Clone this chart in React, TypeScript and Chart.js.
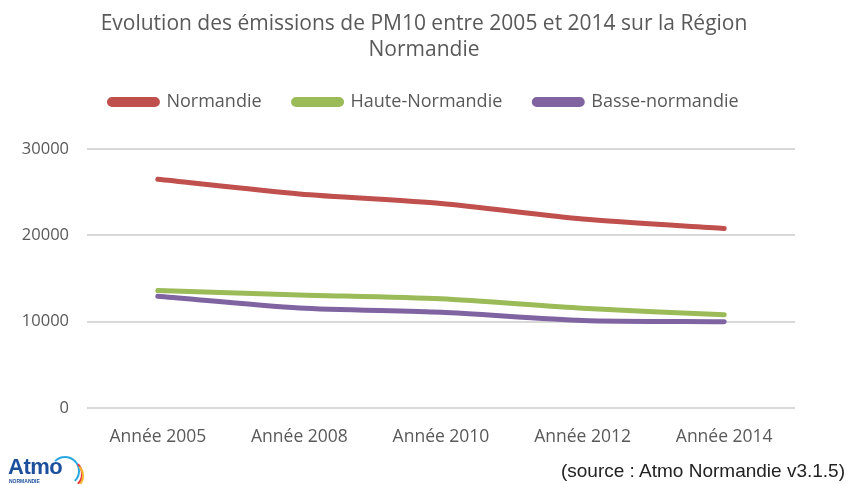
import React, { useEffect, useRef } from "react";
import { Chart, registerables, layouts } from "chart.js";

Chart.register(...registerables);

const categories = ["Année 2005", "Année 2008", "Année 2010", "Année 2012", "Année 2014"];
const normandie = [26500, 24800, 23700, 21900, 20800];
const hauteNormandie = [13600, 13100, 12650, 11550, 10800];
const basseNormandie = [12950, 11600, 11100, 10150, 10000];
const titleLines = ["Evolution des émissions de PM10 entre 2005 et 2014 sur la Région", "Normandie"];
const sourceText = "(source : Atmo Normandie v3.1.5)";

const FONT = "'Open Sans', Lato, sans-serif";
const GREY = "#595959";
const SPACER_HEIGHT = 28;
const RIGHT_GAP = 53;

function makeBox(position: string, size: number) {
  const horizontal = position === "top" || position === "bottom";
  const box: any = {
    position,
    weight: 0,
    fullSize: horizontal,
    options: {},
    left: 0,
    top: 0,
    right: 0,
    bottom: 0,
    width: 0,
    height: 0,
    isHorizontal: () => horizontal,
    update(maxWidth: number, maxHeight: number) {
      if (horizontal) {
        box.width = maxWidth;
        box.height = size;
      } else {
        box.width = size;
        box.height = maxHeight;
      }
    },
    draw() {},
  };
  return box;
}

const spacerPlugin = {
  id: "layoutSpacers",
  beforeInit(chart: any) {
    layouts.addBox(chart, makeBox("top", SPACER_HEIGHT));
    layouts.addBox(chart, makeBox("right", RIGHT_GAP));
  },
};

export default function App() {
  const ref = useRef<HTMLCanvasElement | null>(null);
  useEffect(() => {
    if (!ref.current) return;
    const mk = (label: string, data: number[], color: string) => ({
      label,
      data,
      borderColor: color,
      backgroundColor: color,
      borderWidth: 5,
      pointRadius: 0,
      tension: 0.25,
      borderCapStyle: "round" as const,
      fill: false,
    });
    const chart = new Chart(ref.current, {
      type: "line",
      data: {
        labels: categories,
        datasets: [
          mk("Normandie", normandie, "#C0504D"),
          mk("Haute-Normandie", hauteNormandie, "#9BBB59"),
          mk("Basse-normandie", basseNormandie, "#8064A2"),
        ],
      },
      plugins: [spacerPlugin],
      options: {
        animation: false,
        responsive: true,
        maintainAspectRatio: false,
        layout: { padding: { left: 0, right: 0, top: 0, bottom: 17 } },
        plugins: {
          title: {
            display: true,
            text: titleLines,
            color: GREY,
            font: { family: FONT, size: 21, weight: "normal", lineHeight: 1.24 },
            padding: { top: 11, bottom: -2 },
          },
          legend: {
            display: true,
            labels: {
              color: GREY,
              font: { family: FONT, size: 18 },
              boxWidth: 48,
              boxHeight: 5,
              padding: 32,
              useBorderRadius: true,
              borderRadius: 2.5,
            },
          },
          tooltip: { enabled: false },
        },
        scales: {
          x: {
            offset: true,
            grid: { display: false, drawTicks: false },
            border: { display: false },
            ticks: { color: GREY, font: { family: FONT, size: 17.5 }, padding: 19 },
          },
          y: {
            min: 0,
            max: 30000,
            ticks: {
              stepSize: 10000,
              color: GREY,
              font: { family: FONT, size: 16.5 },
              padding: 18,
              callback: (v: any) => String(v),
            },
            grid: { color: "#d9d9d9", lineWidth: 2, drawTicks: false },
            border: { display: false },
            afterFit: (scale: any) => {
              scale.width = 87;
            },
          },
        },
      },
    });
    return () => chart.destroy();
  }, []);

  return (
    <div style={{ position: "absolute", left: 0, top: 0, width: 848, height: 484, background: "#fff", overflow: "hidden" }}>
      <canvas ref={ref} />
      <div
        style={{
          position: "absolute",
          right: 3,
          top: 459,
          lineHeight: "24px",
          fontFamily: "'Liberation Sans', Arial, sans-serif",
          fontSize: 19,
          color: "#222",
          whiteSpace: "nowrap",
        }}
      >
        {sourceText}
      </div>
      <div style={{ position: "absolute", left: 8, top: 452, width: 80, height: 32 }}>
        <div
          style={{
            position: "absolute",
            left: 0,
            top: 2,
            fontFamily: "'Liberation Sans', Arial, sans-serif",
            fontWeight: "bold",
            fontSize: 22,
            color: "#1c4f9c",
            letterSpacing: -0.5,
          }}
        >
          Atmo
        </div>
        <div
          style={{
            position: "absolute",
            left: 1,
            top: 26,
            fontFamily: "'Liberation Sans', Arial, sans-serif",
            fontWeight: "bold",
            fontSize: 5,
            color: "#1c4f9c",
          }}
        >
          NORMANDIE
        </div>
        <div style={{ position: "absolute", left: 42, top: 4, width: 26, height: 26, borderRadius: "50%", border: "2px solid transparent", borderRightColor: "#29a8e0", borderTopColor: "#29a8e0" }} />
        <div style={{ position: "absolute", left: 45, top: 7, width: 26, height: 26, borderRadius: "50%", border: "2px solid transparent", borderRightColor: "#e2383f" }} />
        <div style={{ position: "absolute", left: 48, top: 10, width: 24, height: 24, borderRadius: "50%", border: "2px solid transparent", borderRightColor: "#f5b82e" }} />
      </div>
    </div>
  );
}
